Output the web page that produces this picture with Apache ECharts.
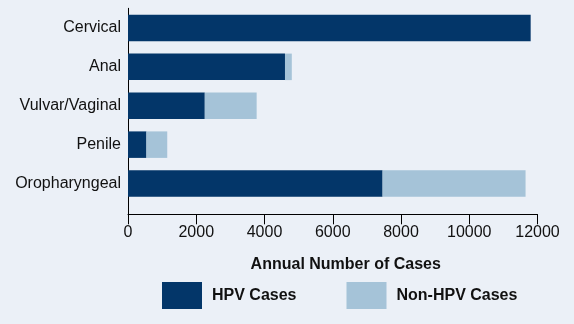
<!DOCTYPE html>
<html>
<head>
<meta charset="utf-8">
<script src="https://cdn.jsdelivr.net/npm/echarts@6/dist/echarts.min.js"></script>
<style>
html,body{margin:0;padding:0;background:#ebf0f7;}
#chart{width:574px;height:324px;}
</style>
</head>
<body>
<div id="chart"></div>
<script>
const categories = ['Cervical', 'Anal', 'Vulvar/Vaginal', 'Penile', 'Oropharyngeal'];
const hpvCases = [11800, 4600, 2250, 540, 7460];
const nonHpvCases = [0, 200, 1520, 610, 4190];
const seriesNames = ['HPV Cases', 'Non-HPV Cases'];
const xTicks = { min: 0, max: 12000, interval: 2000 };
const axisTitle = 'Annual Number of Cases';

const FONT = '"Liberation Sans", Arial, sans-serif';
const chart = echarts.init(document.getElementById('chart'), null, { renderer: 'canvas' });

chart.setOption({
  backgroundColor: '#ebf0f7',
  animation: false,
  textStyle: { fontFamily: FONT },
  legend: {
    data: seriesNames,
    left: 162,
    top: 282,
    padding: 0,
    itemWidth: 40,
    itemHeight: 27,
    itemGap: 50,
    icon: 'rect',
    textStyle: { fontFamily: FONT, fontSize: 16, fontWeight: 'bold', color: '#111', padding: [0, 0, 0, 5] }
  },
  grid: [
    { left: 128, width: 409.5, top: 8.5, height: 194.5, containLabel: false },
    { left: 128, width: 409.5, top: 8.3, height: 206, containLabel: false }
  ],
  xAxis: [
    { type: 'value', gridIndex: 0, min: xTicks.min, max: xTicks.max, interval: xTicks.interval, show: false },
    {
      type: 'value', gridIndex: 1, min: xTicks.min, max: xTicks.max, interval: xTicks.interval,
      axisLine: { show: true, lineStyle: { color: '#000', width: 1 } },
      axisTick: { show: true, length: 10, lineStyle: { color: '#000', width: 1 } },
      axisLabel: { fontFamily: FONT, fontSize: 16, color: '#111', margin: 10, formatter: function (v) { return String(v); } },
      splitLine: { show: false },
      name: axisTitle,
      nameLocation: 'middle',
      nameGap: 42,
      nameTextStyle: { fontFamily: FONT, fontSize: 16, fontWeight: 'bold', color: '#111', padding: [0, 0, 0, 26] }
    }
  ],
  yAxis: [
    {
      type: 'category', gridIndex: 0, data: categories, inverse: true,
      axisLine: { show: false }, axisTick: { show: false },
      axisLabel: { fontFamily: FONT, fontSize: 16, color: '#111', margin: 7 }
    },
    {
      type: 'value', gridIndex: 1, min: 0, max: 1,
      axisLine: { show: true, onZero: false, lineStyle: { color: '#000', width: 1 } },
      axisTick: { show: false }, axisLabel: { show: false }, splitLine: { show: false }
    }
  ],
  series: [
    {
      name: seriesNames[0], type: 'bar', stack: 'total', xAxisIndex: 0, yAxisIndex: 0,
      data: hpvCases, barWidth: 26.5, itemStyle: { color: '#033669' }
    },
    {
      name: seriesNames[1], type: 'bar', stack: 'total', xAxisIndex: 0, yAxisIndex: 0,
      data: nonHpvCases, barWidth: 26.5, itemStyle: { color: '#a5c3d8' }
    }
  ]
});
</script>
</body>
</html>
